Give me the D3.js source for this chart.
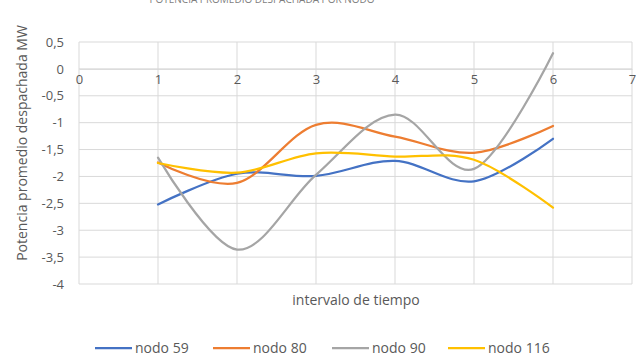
<!DOCTYPE html>
<html>
<head>
<meta charset="utf-8">
<script src="https://cdn.jsdelivr.net/npm/d3@7"></script>
<style>
  body { margin: 0; background: #fff; }
  text { font-family: "Open Sans", "Liberation Sans", sans-serif; fill: #595959; }
</style>
</head>
<body>
<div id="chart"></div>
<script>
(() => {
  // datos
  const intervals = [1, 2, 3, 4, 5, 6];
  const nodo59 = [-2.52, -1.95, -1.99, -1.71, -2.09, -1.30];
  const nodo80 = [-1.74, -2.12, -1.04, -1.26, -1.56, -1.06];
  const nodo90 = [-1.65, -3.36, -1.97, -0.85, -1.86, 0.29];
  const nodo116 = [-1.75, -1.93, -1.57, -1.63, -1.69, -2.58];
  const seriesNames = ['nodo 59', 'nodo 80', 'nodo 90', 'nodo 116'];
  const xTicks = [0, 1, 2, 3, 4, 5, 6, 7];
  const yTicks = [0.5, 0, -0.5, -1, -1.5, -2, -2.5, -3, -3.5, -4];

  const series = [nodo59, nodo80, nodo90, nodo116].map((vals, i) => ({
    name: seriesNames[i],
    values: vals.map((v, j) => ({ x: intervals[j], y: v }))
  }));

  const colorScale = d3.scaleOrdinal()
      .domain(seriesNames)
      .range(['#4472C4', '#ED7D31', '#A5A5A5', '#FFC000']);

  const W = 636, H = 357;
  const margin = { top: 42, right: 4, bottom: 73, left: 79 };
  const width = W - margin.left - margin.right;
  const height = H - margin.top - margin.bottom;

  const svg = d3.select('#chart').append('svg')
      .attr('width', W).attr('height', H);

  // título (recortado en la parte superior, como en el original)
  svg.append('text')
      .attr('x', 262).attr('y', 3)
      .attr('text-anchor', 'middle')
      .attr('font-size', '10px')
      .style('fill', '#7f7f7f')
      .text('POTENCIA PROMEDIO DESPACHADA POR NODO');

  const g = svg.append('g').attr('transform', `translate(${margin.left},${margin.top})`);

  const xScale = d3.scaleLinear().domain([0, 7]).range([0, width]);
  const yScale = d3.scaleLinear().domain([-4, 0.5]).range([height, 0]);

  // rejilla
  g.append('g')
      .selectAll('line').data(yTicks).enter().append('line')
      .attr('x1', 0).attr('x2', width)
      .attr('y1', d => yScale(d)).attr('y2', d => yScale(d))
      .attr('stroke', '#d9d9d9').attr('stroke-width', 1);
  g.append('g')
      .selectAll('line').data(xTicks).enter().append('line')
      .attr('x1', d => xScale(d)).attr('x2', d => xScale(d))
      .attr('y1', 0).attr('y2', height)
      .attr('stroke', '#d9d9d9').attr('stroke-width', 1);

  const fmt = d => String(d).replace('.', ',');

  // eje Y
  const yAxis = g.append('g')
      .call(d3.axisLeft(yScale).tickValues(yTicks).tickFormat(fmt).tickSize(0).tickPadding(15));
  yAxis.select('.domain').remove();
  yAxis.selectAll('text').attr('font-size', '13px').style('fill', '#595959')
      .attr('font-family', '"Open Sans", sans-serif');

  // eje X sobre la línea de cero
  const xAxis = g.append('g')
      .attr('transform', `translate(0,${yScale(0)})`)
      .call(d3.axisBottom(xScale).tickValues(xTicks).tickFormat(d3.format('d')).tickSize(0).tickPadding(6));
  xAxis.select('.domain').attr('stroke', '#d9d9d9');
  xAxis.selectAll('text').attr('font-size', '13px').style('fill', '#595959')
      .attr('font-family', '"Open Sans", sans-serif');

  // líneas suavizadas
  const line = d3.line()
      .x(d => xScale(d.x))
      .y(d => yScale(d.y))
      .curve(d3.curveCatmullRom.alpha(0));

  g.selectAll('.serie').data(series).enter()
      .append('path')
      .attr('fill', 'none')
      .attr('stroke', d => colorScale(d.name))
      .attr('stroke-width', 2.25)
      .attr('stroke-linecap', 'round')
      .attr('d', d => line(d.values));

  // títulos de ejes
  svg.append('text')
      .attr('transform', 'rotate(-90)')
      .attr('x', -143).attr('y', 27)
      .attr('text-anchor', 'middle')
      .attr('font-size', '14px')
      .text('Potencia promedio despachada MW');

  svg.append('text')
      .attr('x', 356).attr('y', 305)
      .attr('text-anchor', 'middle')
      .attr('font-size', '14px')
      .text('intervalo de tiempo');

  // leyenda
  const legendX = [95, 213, 332, 448];
  const legend = svg.selectAll('.legend').data(seriesNames).enter()
      .append('g')
      .attr('transform', (d, i) => `translate(${legendX[i]},348)`);
  legend.append('line')
      .attr('x1', 0).attr('x2', 37).attr('y1', 0).attr('y2', 0)
      .attr('stroke', d => colorScale(d)).attr('stroke-width', 2.25);
  legend.append('text')
      .attr('x', 40).attr('y', 0).attr('dy', '0.35em')
      .attr('font-size', '14px')
      .text(d => d);
})();
</script>
</body>
</html>
